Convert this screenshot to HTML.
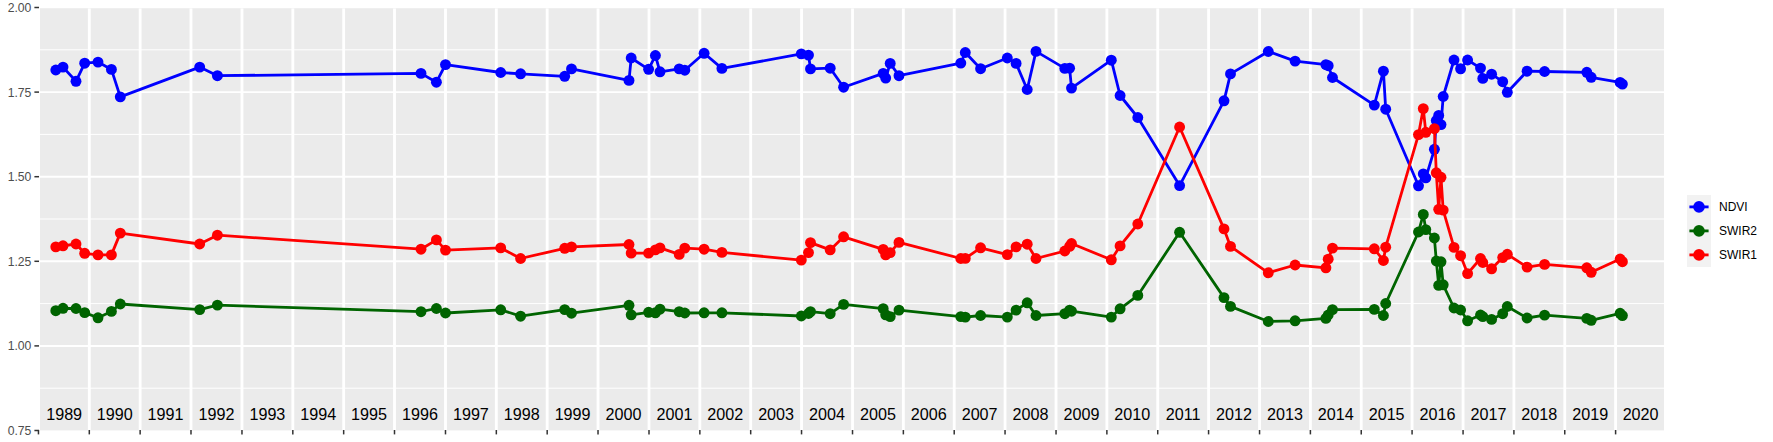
<!DOCTYPE html>
<html lang="en"><head><meta charset="utf-8"><title>NDVI / SWIR time series</title>
<style>html,body{margin:0;padding:0;background:#fff}body{width:1773px;height:442px;overflow:hidden}svg{display:block}text{font-family:"Liberation Sans",sans-serif}</style></head><body>
<svg width="1773" height="442" viewBox="0 0 1773 442">
<rect width="1773" height="442" fill="#fff"/>
<defs><clipPath id="pc"><rect x="40.0" y="8.2" width="1624.0" height="422.2"/></clipPath></defs>
<rect x="40.0" y="8.2" width="1624.0" height="422.2" fill="#ebebeb"/>
<g clip-path="url(#pc)">
<g stroke="#fff" stroke-width="1.00">
<line x1="40.0" x2="1664.0" y1="49.80" y2="49.80"/>
<line x1="40.0" x2="1664.0" y1="134.40" y2="134.40"/>
<line x1="40.0" x2="1664.0" y1="219.00" y2="219.00"/>
<line x1="40.0" x2="1664.0" y1="303.60" y2="303.60"/>
<line x1="40.0" x2="1664.0" y1="388.20" y2="388.20"/>
</g>
<g stroke="#fff" stroke-width="1.95">
<line x1="40.0" x2="1664.0" y1="92.10" y2="92.10"/>
<line x1="40.0" x2="1664.0" y1="176.70" y2="176.70"/>
<line x1="40.0" x2="1664.0" y1="261.30" y2="261.30"/>
<line x1="40.0" x2="1664.0" y1="345.90" y2="345.90"/>
</g>
<g stroke="#fff" stroke-width="2.85">
<line x1="38.46" x2="38.46" y1="8.2" y2="430.4"/>
<line x1="89.30" x2="89.30" y1="8.2" y2="430.4"/>
<line x1="140.14" x2="140.14" y1="8.2" y2="430.4"/>
<line x1="190.99" x2="190.99" y1="8.2" y2="430.4"/>
<line x1="241.97" x2="241.97" y1="8.2" y2="430.4"/>
<line x1="292.82" x2="292.82" y1="8.2" y2="430.4"/>
<line x1="343.66" x2="343.66" y1="8.2" y2="430.4"/>
<line x1="394.50" x2="394.50" y1="8.2" y2="430.4"/>
<line x1="445.49" x2="445.49" y1="8.2" y2="430.4"/>
<line x1="496.33" x2="496.33" y1="8.2" y2="430.4"/>
<line x1="547.18" x2="547.18" y1="8.2" y2="430.4"/>
<line x1="598.02" x2="598.02" y1="8.2" y2="430.4"/>
<line x1="649.00" x2="649.00" y1="8.2" y2="430.4"/>
<line x1="699.85" x2="699.85" y1="8.2" y2="430.4"/>
<line x1="750.69" x2="750.69" y1="8.2" y2="430.4"/>
<line x1="801.54" x2="801.54" y1="8.2" y2="430.4"/>
<line x1="852.52" x2="852.52" y1="8.2" y2="430.4"/>
<line x1="903.36" x2="903.36" y1="8.2" y2="430.4"/>
<line x1="954.21" x2="954.21" y1="8.2" y2="430.4"/>
<line x1="1005.05" x2="1005.05" y1="8.2" y2="430.4"/>
<line x1="1056.04" x2="1056.04" y1="8.2" y2="430.4"/>
<line x1="1106.88" x2="1106.88" y1="8.2" y2="430.4"/>
<line x1="1157.72" x2="1157.72" y1="8.2" y2="430.4"/>
<line x1="1208.57" x2="1208.57" y1="8.2" y2="430.4"/>
<line x1="1259.55" x2="1259.55" y1="8.2" y2="430.4"/>
<line x1="1310.40" x2="1310.40" y1="8.2" y2="430.4"/>
<line x1="1361.24" x2="1361.24" y1="8.2" y2="430.4"/>
<line x1="1412.08" x2="1412.08" y1="8.2" y2="430.4"/>
<line x1="1463.07" x2="1463.07" y1="8.2" y2="430.4"/>
<line x1="1513.91" x2="1513.91" y1="8.2" y2="430.4"/>
<line x1="1564.76" x2="1564.76" y1="8.2" y2="430.4"/>
<line x1="1615.60" x2="1615.60" y1="8.2" y2="430.4"/>
<line x1="1666.58" x2="1666.58" y1="8.2" y2="430.4"/>
</g>
<polyline points="55.8,70.0 63.0,67.1 76.0,81.3 84.7,63.2 98.0,62.1 111.4,69.4 120.3,96.9 199.7,67.1 217.4,75.7 421.0,73.4 436.4,82.2 445.5,64.6 500.7,72.5 520.6,73.8 564.7,76.3 571.5,68.9 629.0,80.4 631.2,58.0 648.6,69.3 655.4,55.5 660.0,71.8 679.2,68.9 684.8,70.2 704.1,53.3 721.9,68.4 801.3,53.9 808.5,55.1 810.5,68.9 830.2,68.2 843.6,87.2 883.2,73.4 885.7,78.1 890.2,63.4 899.0,75.7 960.8,63.1 965.3,52.5 980.6,68.7 1007.3,58.0 1016.1,63.4 1027.2,89.5 1036.0,51.4 1064.8,68.4 1069.6,68.2 1071.5,88.1 1111.3,60.2 1120.1,95.5 1137.8,117.5 1179.6,185.6 1224.0,100.8 1230.5,73.9 1268.3,51.5 1295.1,61.1 1325.9,64.6 1328.2,65.7 1332.5,77.5 1374.3,105.1 1383.4,71.2 1385.7,109.2 1418.5,185.8 1423.3,173.9 1425.8,177.9 1434.4,149.3 1436.3,120.5 1438.7,115.4 1441.0,124.6 1443.2,96.5 1454.0,60.0 1460.6,68.8 1467.6,60.0 1480.5,68.1 1482.8,78.4 1491.6,74.2 1502.7,81.7 1507.3,92.3 1527.1,71.2 1544.6,71.5 1586.8,72.3 1591.2,77.3 1620.1,82.4 1622.4,84.1" fill="none" stroke="#0000ff" stroke-width="2.80" stroke-linejoin="round" stroke-linecap="butt"/>
<g fill="#0000ff">
<circle cx="55.8" cy="70.0" r="5.45"/>
<circle cx="63.0" cy="67.1" r="5.45"/>
<circle cx="76.0" cy="81.3" r="5.45"/>
<circle cx="84.7" cy="63.2" r="5.45"/>
<circle cx="98.0" cy="62.1" r="5.45"/>
<circle cx="111.4" cy="69.4" r="5.45"/>
<circle cx="120.3" cy="96.9" r="5.45"/>
<circle cx="199.7" cy="67.1" r="5.45"/>
<circle cx="217.4" cy="75.7" r="5.45"/>
<circle cx="421.0" cy="73.4" r="5.45"/>
<circle cx="436.4" cy="82.2" r="5.45"/>
<circle cx="445.5" cy="64.6" r="5.45"/>
<circle cx="500.7" cy="72.5" r="5.45"/>
<circle cx="520.6" cy="73.8" r="5.45"/>
<circle cx="564.7" cy="76.3" r="5.45"/>
<circle cx="571.5" cy="68.9" r="5.45"/>
<circle cx="629.0" cy="80.4" r="5.45"/>
<circle cx="631.2" cy="58.0" r="5.45"/>
<circle cx="648.6" cy="69.3" r="5.45"/>
<circle cx="655.4" cy="55.5" r="5.45"/>
<circle cx="660.0" cy="71.8" r="5.45"/>
<circle cx="679.2" cy="68.9" r="5.45"/>
<circle cx="684.8" cy="70.2" r="5.45"/>
<circle cx="704.1" cy="53.3" r="5.45"/>
<circle cx="721.9" cy="68.4" r="5.45"/>
<circle cx="801.3" cy="53.9" r="5.45"/>
<circle cx="808.5" cy="55.1" r="5.45"/>
<circle cx="810.5" cy="68.9" r="5.45"/>
<circle cx="830.2" cy="68.2" r="5.45"/>
<circle cx="843.6" cy="87.2" r="5.45"/>
<circle cx="883.2" cy="73.4" r="5.45"/>
<circle cx="885.7" cy="78.1" r="5.45"/>
<circle cx="890.2" cy="63.4" r="5.45"/>
<circle cx="899.0" cy="75.7" r="5.45"/>
<circle cx="960.8" cy="63.1" r="5.45"/>
<circle cx="965.3" cy="52.5" r="5.45"/>
<circle cx="980.6" cy="68.7" r="5.45"/>
<circle cx="1007.3" cy="58.0" r="5.45"/>
<circle cx="1016.1" cy="63.4" r="5.45"/>
<circle cx="1027.2" cy="89.5" r="5.45"/>
<circle cx="1036.0" cy="51.4" r="5.45"/>
<circle cx="1064.8" cy="68.4" r="5.45"/>
<circle cx="1069.6" cy="68.2" r="5.45"/>
<circle cx="1071.5" cy="88.1" r="5.45"/>
<circle cx="1111.3" cy="60.2" r="5.45"/>
<circle cx="1120.1" cy="95.5" r="5.45"/>
<circle cx="1137.8" cy="117.5" r="5.45"/>
<circle cx="1179.6" cy="185.6" r="5.45"/>
<circle cx="1224.0" cy="100.8" r="5.45"/>
<circle cx="1230.5" cy="73.9" r="5.45"/>
<circle cx="1268.3" cy="51.5" r="5.45"/>
<circle cx="1295.1" cy="61.1" r="5.45"/>
<circle cx="1325.9" cy="64.6" r="5.45"/>
<circle cx="1328.2" cy="65.7" r="5.45"/>
<circle cx="1332.5" cy="77.5" r="5.45"/>
<circle cx="1374.3" cy="105.1" r="5.45"/>
<circle cx="1383.4" cy="71.2" r="5.45"/>
<circle cx="1385.7" cy="109.2" r="5.45"/>
<circle cx="1418.5" cy="185.8" r="5.45"/>
<circle cx="1423.3" cy="173.9" r="5.45"/>
<circle cx="1425.8" cy="177.9" r="5.45"/>
<circle cx="1434.4" cy="149.3" r="5.45"/>
<circle cx="1436.3" cy="120.5" r="5.45"/>
<circle cx="1438.7" cy="115.4" r="5.45"/>
<circle cx="1441.0" cy="124.6" r="5.45"/>
<circle cx="1443.2" cy="96.5" r="5.45"/>
<circle cx="1454.0" cy="60.0" r="5.45"/>
<circle cx="1460.6" cy="68.8" r="5.45"/>
<circle cx="1467.6" cy="60.0" r="5.45"/>
<circle cx="1480.5" cy="68.1" r="5.45"/>
<circle cx="1482.8" cy="78.4" r="5.45"/>
<circle cx="1491.6" cy="74.2" r="5.45"/>
<circle cx="1502.7" cy="81.7" r="5.45"/>
<circle cx="1507.3" cy="92.3" r="5.45"/>
<circle cx="1527.1" cy="71.2" r="5.45"/>
<circle cx="1544.6" cy="71.5" r="5.45"/>
<circle cx="1586.8" cy="72.3" r="5.45"/>
<circle cx="1591.2" cy="77.3" r="5.45"/>
<circle cx="1620.1" cy="82.4" r="5.45"/>
<circle cx="1622.4" cy="84.1" r="5.45"/>
</g>
<polyline points="55.8,310.7 63.0,308.3 76.0,308.5 84.7,312.6 98.0,317.8 111.4,311.4 120.3,304.0 199.7,309.6 217.4,305.1 421.0,311.7 436.4,308.5 445.5,313.0 500.7,309.8 520.6,316.2 564.7,309.6 571.5,313.2 629.0,305.3 631.2,314.8 648.6,312.3 655.4,312.8 660.0,309.2 679.2,311.7 684.8,313.0 704.1,312.8 721.9,312.8 801.3,316.0 808.5,313.5 810.5,311.7 830.2,313.7 843.6,304.4 883.2,308.7 885.7,314.8 890.2,316.6 899.0,310.1 960.8,316.6 965.3,317.1 980.6,315.5 1007.3,317.1 1016.1,310.1 1027.2,302.8 1036.0,315.5 1064.8,313.7 1069.6,310.1 1071.5,311.2 1111.3,317.1 1120.1,308.8 1137.8,295.4 1179.6,232.3 1224.0,297.6 1230.5,306.4 1268.3,321.5 1295.1,320.8 1325.9,318.4 1328.2,315.0 1332.5,309.6 1374.3,309.4 1383.4,315.5 1385.7,303.5 1418.5,232.0 1423.3,214.4 1425.8,229.6 1434.4,238.0 1436.3,261.0 1438.7,285.4 1441.0,261.8 1443.2,284.8 1454.0,308.0 1460.6,310.0 1467.6,320.8 1480.5,315.0 1482.8,316.6 1491.6,319.4 1502.7,313.7 1507.3,306.5 1527.1,318.0 1544.6,315.1 1586.8,318.4 1591.2,320.3 1620.1,313.3 1622.4,315.6" fill="none" stroke="#006400" stroke-width="2.80" stroke-linejoin="round" stroke-linecap="butt"/>
<g fill="#006400">
<circle cx="55.8" cy="310.7" r="5.45"/>
<circle cx="63.0" cy="308.3" r="5.45"/>
<circle cx="76.0" cy="308.5" r="5.45"/>
<circle cx="84.7" cy="312.6" r="5.45"/>
<circle cx="98.0" cy="317.8" r="5.45"/>
<circle cx="111.4" cy="311.4" r="5.45"/>
<circle cx="120.3" cy="304.0" r="5.45"/>
<circle cx="199.7" cy="309.6" r="5.45"/>
<circle cx="217.4" cy="305.1" r="5.45"/>
<circle cx="421.0" cy="311.7" r="5.45"/>
<circle cx="436.4" cy="308.5" r="5.45"/>
<circle cx="445.5" cy="313.0" r="5.45"/>
<circle cx="500.7" cy="309.8" r="5.45"/>
<circle cx="520.6" cy="316.2" r="5.45"/>
<circle cx="564.7" cy="309.6" r="5.45"/>
<circle cx="571.5" cy="313.2" r="5.45"/>
<circle cx="629.0" cy="305.3" r="5.45"/>
<circle cx="631.2" cy="314.8" r="5.45"/>
<circle cx="648.6" cy="312.3" r="5.45"/>
<circle cx="655.4" cy="312.8" r="5.45"/>
<circle cx="660.0" cy="309.2" r="5.45"/>
<circle cx="679.2" cy="311.7" r="5.45"/>
<circle cx="684.8" cy="313.0" r="5.45"/>
<circle cx="704.1" cy="312.8" r="5.45"/>
<circle cx="721.9" cy="312.8" r="5.45"/>
<circle cx="801.3" cy="316.0" r="5.45"/>
<circle cx="808.5" cy="313.5" r="5.45"/>
<circle cx="810.5" cy="311.7" r="5.45"/>
<circle cx="830.2" cy="313.7" r="5.45"/>
<circle cx="843.6" cy="304.4" r="5.45"/>
<circle cx="883.2" cy="308.7" r="5.45"/>
<circle cx="885.7" cy="314.8" r="5.45"/>
<circle cx="890.2" cy="316.6" r="5.45"/>
<circle cx="899.0" cy="310.1" r="5.45"/>
<circle cx="960.8" cy="316.6" r="5.45"/>
<circle cx="965.3" cy="317.1" r="5.45"/>
<circle cx="980.6" cy="315.5" r="5.45"/>
<circle cx="1007.3" cy="317.1" r="5.45"/>
<circle cx="1016.1" cy="310.1" r="5.45"/>
<circle cx="1027.2" cy="302.8" r="5.45"/>
<circle cx="1036.0" cy="315.5" r="5.45"/>
<circle cx="1064.8" cy="313.7" r="5.45"/>
<circle cx="1069.6" cy="310.1" r="5.45"/>
<circle cx="1071.5" cy="311.2" r="5.45"/>
<circle cx="1111.3" cy="317.1" r="5.45"/>
<circle cx="1120.1" cy="308.8" r="5.45"/>
<circle cx="1137.8" cy="295.4" r="5.45"/>
<circle cx="1179.6" cy="232.3" r="5.45"/>
<circle cx="1224.0" cy="297.6" r="5.45"/>
<circle cx="1230.5" cy="306.4" r="5.45"/>
<circle cx="1268.3" cy="321.5" r="5.45"/>
<circle cx="1295.1" cy="320.8" r="5.45"/>
<circle cx="1325.9" cy="318.4" r="5.45"/>
<circle cx="1328.2" cy="315.0" r="5.45"/>
<circle cx="1332.5" cy="309.6" r="5.45"/>
<circle cx="1374.3" cy="309.4" r="5.45"/>
<circle cx="1383.4" cy="315.5" r="5.45"/>
<circle cx="1385.7" cy="303.5" r="5.45"/>
<circle cx="1418.5" cy="232.0" r="5.45"/>
<circle cx="1423.3" cy="214.4" r="5.45"/>
<circle cx="1425.8" cy="229.6" r="5.45"/>
<circle cx="1434.4" cy="238.0" r="5.45"/>
<circle cx="1436.3" cy="261.0" r="5.45"/>
<circle cx="1438.7" cy="285.4" r="5.45"/>
<circle cx="1441.0" cy="261.8" r="5.45"/>
<circle cx="1443.2" cy="284.8" r="5.45"/>
<circle cx="1454.0" cy="308.0" r="5.45"/>
<circle cx="1460.6" cy="310.0" r="5.45"/>
<circle cx="1467.6" cy="320.8" r="5.45"/>
<circle cx="1480.5" cy="315.0" r="5.45"/>
<circle cx="1482.8" cy="316.6" r="5.45"/>
<circle cx="1491.6" cy="319.4" r="5.45"/>
<circle cx="1502.7" cy="313.7" r="5.45"/>
<circle cx="1507.3" cy="306.5" r="5.45"/>
<circle cx="1527.1" cy="318.0" r="5.45"/>
<circle cx="1544.6" cy="315.1" r="5.45"/>
<circle cx="1586.8" cy="318.4" r="5.45"/>
<circle cx="1591.2" cy="320.3" r="5.45"/>
<circle cx="1620.1" cy="313.3" r="5.45"/>
<circle cx="1622.4" cy="315.6" r="5.45"/>
</g>
<polyline points="55.8,246.9 63.0,245.8 76.0,244.0 84.7,253.3 98.0,254.9 111.4,254.9 120.3,233.1 199.7,244.0 217.4,235.2 421.0,249.2 436.4,239.9 445.5,250.1 500.7,247.9 520.6,258.5 564.7,248.3 571.5,246.9 629.0,244.5 631.2,253.1 648.6,253.1 655.4,249.9 660.0,247.9 679.2,254.4 684.8,248.1 704.1,249.2 721.9,252.4 801.3,260.1 808.5,252.6 810.5,242.6 830.2,249.9 843.6,236.8 883.2,249.4 885.7,254.9 890.2,252.6 899.0,242.4 960.8,258.5 965.3,258.4 980.6,247.8 1007.3,254.6 1016.1,246.9 1027.2,244.2 1036.0,258.5 1064.8,251.0 1069.6,246.4 1071.5,243.5 1111.3,259.8 1120.1,245.9 1137.8,224.0 1179.6,127.0 1224.0,228.9 1230.5,246.4 1268.3,272.8 1295.1,265.0 1325.9,267.8 1328.2,259.2 1332.5,248.1 1374.3,248.8 1383.4,260.5 1385.7,247.2 1418.5,134.6 1423.3,108.6 1425.8,132.3 1434.4,128.7 1436.3,172.8 1438.7,209.3 1441.0,177.3 1443.2,210.1 1454.0,247.4 1460.6,255.7 1467.6,273.6 1480.5,258.5 1482.8,262.5 1491.6,268.8 1502.7,257.6 1507.3,254.3 1527.1,267.1 1544.6,264.4 1586.8,267.8 1591.2,272.3 1620.1,259.0 1622.4,261.7" fill="none" stroke="#ff0000" stroke-width="2.80" stroke-linejoin="round" stroke-linecap="butt"/>
<g fill="#ff0000">
<circle cx="55.8" cy="246.9" r="5.45"/>
<circle cx="63.0" cy="245.8" r="5.45"/>
<circle cx="76.0" cy="244.0" r="5.45"/>
<circle cx="84.7" cy="253.3" r="5.45"/>
<circle cx="98.0" cy="254.9" r="5.45"/>
<circle cx="111.4" cy="254.9" r="5.45"/>
<circle cx="120.3" cy="233.1" r="5.45"/>
<circle cx="199.7" cy="244.0" r="5.45"/>
<circle cx="217.4" cy="235.2" r="5.45"/>
<circle cx="421.0" cy="249.2" r="5.45"/>
<circle cx="436.4" cy="239.9" r="5.45"/>
<circle cx="445.5" cy="250.1" r="5.45"/>
<circle cx="500.7" cy="247.9" r="5.45"/>
<circle cx="520.6" cy="258.5" r="5.45"/>
<circle cx="564.7" cy="248.3" r="5.45"/>
<circle cx="571.5" cy="246.9" r="5.45"/>
<circle cx="629.0" cy="244.5" r="5.45"/>
<circle cx="631.2" cy="253.1" r="5.45"/>
<circle cx="648.6" cy="253.1" r="5.45"/>
<circle cx="655.4" cy="249.9" r="5.45"/>
<circle cx="660.0" cy="247.9" r="5.45"/>
<circle cx="679.2" cy="254.4" r="5.45"/>
<circle cx="684.8" cy="248.1" r="5.45"/>
<circle cx="704.1" cy="249.2" r="5.45"/>
<circle cx="721.9" cy="252.4" r="5.45"/>
<circle cx="801.3" cy="260.1" r="5.45"/>
<circle cx="808.5" cy="252.6" r="5.45"/>
<circle cx="810.5" cy="242.6" r="5.45"/>
<circle cx="830.2" cy="249.9" r="5.45"/>
<circle cx="843.6" cy="236.8" r="5.45"/>
<circle cx="883.2" cy="249.4" r="5.45"/>
<circle cx="885.7" cy="254.9" r="5.45"/>
<circle cx="890.2" cy="252.6" r="5.45"/>
<circle cx="899.0" cy="242.4" r="5.45"/>
<circle cx="960.8" cy="258.5" r="5.45"/>
<circle cx="965.3" cy="258.4" r="5.45"/>
<circle cx="980.6" cy="247.8" r="5.45"/>
<circle cx="1007.3" cy="254.6" r="5.45"/>
<circle cx="1016.1" cy="246.9" r="5.45"/>
<circle cx="1027.2" cy="244.2" r="5.45"/>
<circle cx="1036.0" cy="258.5" r="5.45"/>
<circle cx="1064.8" cy="251.0" r="5.45"/>
<circle cx="1069.6" cy="246.4" r="5.45"/>
<circle cx="1071.5" cy="243.5" r="5.45"/>
<circle cx="1111.3" cy="259.8" r="5.45"/>
<circle cx="1120.1" cy="245.9" r="5.45"/>
<circle cx="1137.8" cy="224.0" r="5.45"/>
<circle cx="1179.6" cy="127.0" r="5.45"/>
<circle cx="1224.0" cy="228.9" r="5.45"/>
<circle cx="1230.5" cy="246.4" r="5.45"/>
<circle cx="1268.3" cy="272.8" r="5.45"/>
<circle cx="1295.1" cy="265.0" r="5.45"/>
<circle cx="1325.9" cy="267.8" r="5.45"/>
<circle cx="1328.2" cy="259.2" r="5.45"/>
<circle cx="1332.5" cy="248.1" r="5.45"/>
<circle cx="1374.3" cy="248.8" r="5.45"/>
<circle cx="1383.4" cy="260.5" r="5.45"/>
<circle cx="1385.7" cy="247.2" r="5.45"/>
<circle cx="1418.5" cy="134.6" r="5.45"/>
<circle cx="1423.3" cy="108.6" r="5.45"/>
<circle cx="1425.8" cy="132.3" r="5.45"/>
<circle cx="1434.4" cy="128.7" r="5.45"/>
<circle cx="1436.3" cy="172.8" r="5.45"/>
<circle cx="1438.7" cy="209.3" r="5.45"/>
<circle cx="1441.0" cy="177.3" r="5.45"/>
<circle cx="1443.2" cy="210.1" r="5.45"/>
<circle cx="1454.0" cy="247.4" r="5.45"/>
<circle cx="1460.6" cy="255.7" r="5.45"/>
<circle cx="1467.6" cy="273.6" r="5.45"/>
<circle cx="1480.5" cy="258.5" r="5.45"/>
<circle cx="1482.8" cy="262.5" r="5.45"/>
<circle cx="1491.6" cy="268.8" r="5.45"/>
<circle cx="1502.7" cy="257.6" r="5.45"/>
<circle cx="1507.3" cy="254.3" r="5.45"/>
<circle cx="1527.1" cy="267.1" r="5.45"/>
<circle cx="1544.6" cy="264.4" r="5.45"/>
<circle cx="1586.8" cy="267.8" r="5.45"/>
<circle cx="1591.2" cy="272.3" r="5.45"/>
<circle cx="1620.1" cy="259.0" r="5.45"/>
<circle cx="1622.4" cy="261.7" r="5.45"/>
</g>
</g>
<g stroke="#333" stroke-width="1.5">
<line x1="34.4" x2="39.0" y1="7.50" y2="7.50"/>
<line x1="34.4" x2="39.0" y1="92.10" y2="92.10"/>
<line x1="34.4" x2="39.0" y1="176.70" y2="176.70"/>
<line x1="34.4" x2="39.0" y1="261.30" y2="261.30"/>
<line x1="34.4" x2="39.0" y1="345.90" y2="345.90"/>
<line x1="34.4" x2="39.0" y1="430.50" y2="430.50"/>
<line x1="38.46" x2="38.46" y1="430.0" y2="434.4"/>
<line x1="89.30" x2="89.30" y1="430.0" y2="434.4"/>
<line x1="140.14" x2="140.14" y1="430.0" y2="434.4"/>
<line x1="190.99" x2="190.99" y1="430.0" y2="434.4"/>
<line x1="241.97" x2="241.97" y1="430.0" y2="434.4"/>
<line x1="292.82" x2="292.82" y1="430.0" y2="434.4"/>
<line x1="343.66" x2="343.66" y1="430.0" y2="434.4"/>
<line x1="394.50" x2="394.50" y1="430.0" y2="434.4"/>
<line x1="445.49" x2="445.49" y1="430.0" y2="434.4"/>
<line x1="496.33" x2="496.33" y1="430.0" y2="434.4"/>
<line x1="547.18" x2="547.18" y1="430.0" y2="434.4"/>
<line x1="598.02" x2="598.02" y1="430.0" y2="434.4"/>
<line x1="649.00" x2="649.00" y1="430.0" y2="434.4"/>
<line x1="699.85" x2="699.85" y1="430.0" y2="434.4"/>
<line x1="750.69" x2="750.69" y1="430.0" y2="434.4"/>
<line x1="801.54" x2="801.54" y1="430.0" y2="434.4"/>
<line x1="852.52" x2="852.52" y1="430.0" y2="434.4"/>
<line x1="903.36" x2="903.36" y1="430.0" y2="434.4"/>
<line x1="954.21" x2="954.21" y1="430.0" y2="434.4"/>
<line x1="1005.05" x2="1005.05" y1="430.0" y2="434.4"/>
<line x1="1056.04" x2="1056.04" y1="430.0" y2="434.4"/>
<line x1="1106.88" x2="1106.88" y1="430.0" y2="434.4"/>
<line x1="1157.72" x2="1157.72" y1="430.0" y2="434.4"/>
<line x1="1208.57" x2="1208.57" y1="430.0" y2="434.4"/>
<line x1="1259.55" x2="1259.55" y1="430.0" y2="434.4"/>
<line x1="1310.40" x2="1310.40" y1="430.0" y2="434.4"/>
<line x1="1361.24" x2="1361.24" y1="430.0" y2="434.4"/>
<line x1="1412.08" x2="1412.08" y1="430.0" y2="434.4"/>
<line x1="1463.07" x2="1463.07" y1="430.0" y2="434.4"/>
<line x1="1513.91" x2="1513.91" y1="430.0" y2="434.4"/>
<line x1="1564.76" x2="1564.76" y1="430.0" y2="434.4"/>
<line x1="1615.60" x2="1615.60" y1="430.0" y2="434.4"/>
</g>
<g fill="#4d4d4d" font-size="12.2" text-anchor="end">
<text x="31.4" y="12.00">2.00</text>
<text x="31.4" y="96.60">1.75</text>
<text x="31.4" y="181.20">1.50</text>
<text x="31.4" y="265.80">1.25</text>
<text x="31.4" y="350.40">1.00</text>
<text x="31.4" y="435.00">0.75</text>
</g>
<g fill="#000" font-size="16.15" text-anchor="middle">
<text x="64.15" y="419.55">1989</text>
<text x="114.72" y="419.55">1990</text>
<text x="165.57" y="419.55">1991</text>
<text x="216.48" y="419.55">1992</text>
<text x="267.39" y="419.55">1993</text>
<text x="318.24" y="419.55">1994</text>
<text x="369.08" y="419.55">1995</text>
<text x="420.00" y="419.55">1996</text>
<text x="470.91" y="419.55">1997</text>
<text x="521.75" y="419.55">1998</text>
<text x="572.60" y="419.55">1999</text>
<text x="623.51" y="419.55">2000</text>
<text x="674.43" y="419.55">2001</text>
<text x="725.27" y="419.55">2002</text>
<text x="776.11" y="419.55">2003</text>
<text x="827.03" y="419.55">2004</text>
<text x="877.94" y="419.55">2005</text>
<text x="928.79" y="419.55">2006</text>
<text x="979.63" y="419.55">2007</text>
<text x="1030.54" y="419.55">2008</text>
<text x="1081.46" y="419.55">2009</text>
<text x="1132.30" y="419.55">2010</text>
<text x="1183.15" y="419.55">2011</text>
<text x="1234.06" y="419.55">2012</text>
<text x="1284.97" y="419.55">2013</text>
<text x="1335.82" y="419.55">2014</text>
<text x="1386.66" y="419.55">2015</text>
<text x="1437.58" y="419.55">2016</text>
<text x="1488.49" y="419.55">2017</text>
<text x="1539.33" y="419.55">2018</text>
<text x="1590.18" y="419.55">2019</text>
<text x="1640.60" y="419.55">2020</text>
</g>
<rect x="1687" y="195" width="24" height="72" fill="#f2f2f2"/>
<line x1="1689.4" x2="1708.6" y1="206.9" y2="206.9" stroke="#0000ff" stroke-width="2.80"/>
<circle cx="1699" cy="206.9" r="5.8" fill="#0000ff"/>
<text x="1719.0" y="211.2" font-size="12.0" fill="#000">NDVI</text>
<line x1="1689.4" x2="1708.6" y1="230.9" y2="230.9" stroke="#006400" stroke-width="2.80"/>
<circle cx="1699" cy="230.9" r="5.8" fill="#006400"/>
<text x="1719.0" y="235.2" font-size="12.0" fill="#000">SWIR2</text>
<line x1="1689.4" x2="1708.6" y1="254.9" y2="254.9" stroke="#ff0000" stroke-width="2.80"/>
<circle cx="1699" cy="254.9" r="5.8" fill="#ff0000"/>
<text x="1719.0" y="259.2" font-size="12.0" fill="#000">SWIR1</text>
</svg></body></html>
